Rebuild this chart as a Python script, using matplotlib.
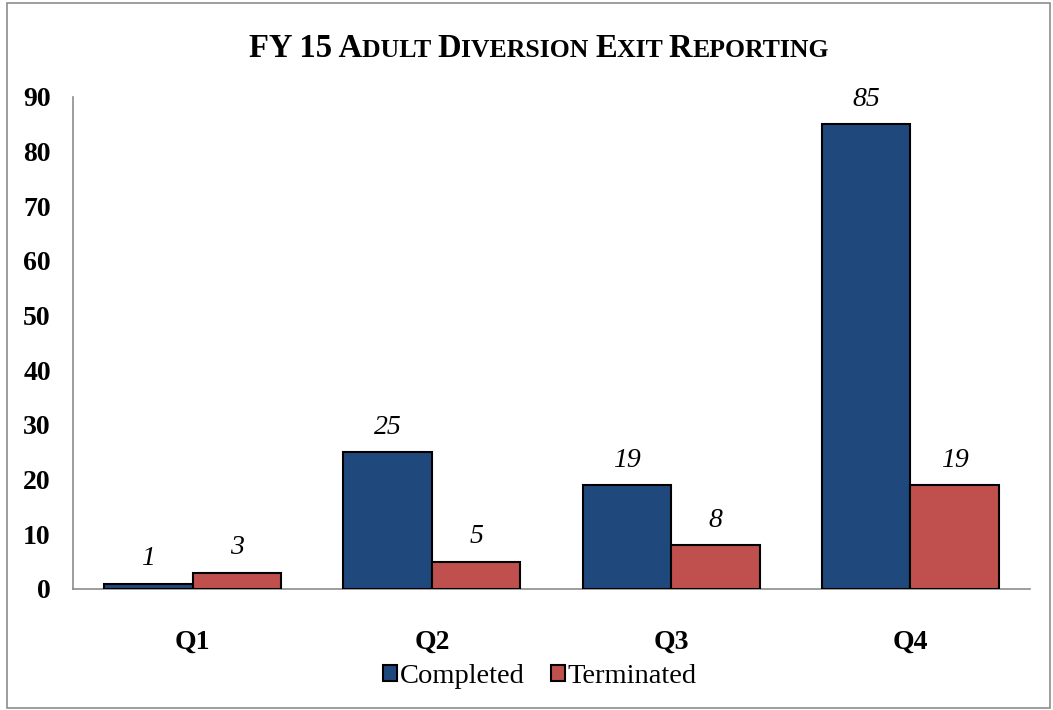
import matplotlib.pyplot as plt
import numpy as np
from matplotlib.patches import Rectangle

# Chart data
quarters = ["Q1", "Q2", "Q3", "Q4"]
completed = [1, 25, 19, 85]
terminated = [3, 5, 8, 19]
series_names = ["Completed", "Terminated"]
series_colors = ["#1F497D", "#C0504D"]

# Title pieces as (text, is_small_cap)
title_parts = [("FY 15 A", False), ("DULT ", True), ("D", False), ("IVERSION ", True),
               ("E", False), ("XIT ", True), ("R", False), ("EPORTING", True)]

plt.rcParams['font.family'] = ['Liberation Serif', 'DejaVu Serif']

fig = plt.figure(figsize=(10.53, 7.10), dpi=100)
ax = fig.add_axes([73 / 1053, 1 - 589 / 710, (1030 - 73) / 1053, (589 - 97) / 710])

# Outer chart border
fig.patches.append(Rectangle((7 / 1053, 2 / 710), 1043 / 1053, 705 / 710,
                             transform=fig.transFigure, fill=False,
                             edgecolor="#8C8C8C", linewidth=1.2))

x = np.arange(len(quarters))
width = 0.37
bars1 = ax.bar(x - width / 2, completed, width, color=series_colors[0],
               edgecolor="black", linewidth=1.5, label=series_names[0], zorder=3)
bars2 = ax.bar(x + width / 2, terminated, width, color=series_colors[1],
               edgecolor="black", linewidth=1.5, label=series_names[1], zorder=3)

# Data labels
for bars in (bars1, bars2):
    for b in bars:
        ax.annotate(f"{int(b.get_height())}", (b.get_x() + b.get_width() / 2, b.get_height()),
                    xytext=(0, 9), textcoords="offset points", ha="center", va="bottom",
                    fontsize=20, fontstyle="italic")

ax.set_xlim(-0.5, len(quarters) - 0.5)
ax.set_ylim(0, 90)
ax.set_yticks(range(0, 91, 10))
ax.set_xticks(x)
ax.set_xticklabels(quarters, fontsize=20, fontweight="bold")
for lbl in ax.get_yticklabels():
    lbl.set_fontsize(20)
    lbl.set_fontweight("bold")
ax.tick_params(axis="both", length=0)
ax.tick_params(axis="x", pad=29)
ax.tick_params(axis="y", pad=16)

for s in ("top", "right"):
    ax.spines[s].set_visible(False)
ax.spines["left"].set_color("#8C8C8C")
ax.spines["bottom"].set_color("#8C8C8C")
ax.spines["left"].set_linewidth(1.2)
ax.spines["bottom"].set_linewidth(1.2)

# Legend
ax.legend(loc="upper center", bbox_to_anchor=(0.488, -0.10), ncol=2, frameon=False,
          fontsize=20.5, handlelength=0.5, handleheight=0.5, handletextpad=0.1,
          columnspacing=0.9)

# Small-caps title built from pieces
fig.canvas.draw()
renderer = fig.canvas.get_renderer()
texts = []
for part, small in title_parts:
    t = fig.text(0, 0, part, fontsize=18.5 if small else 23.5, fontweight="bold",
                 ha="left", va="baseline")
    texts.append(t)
widths = [t.get_window_extent(renderer).width for t in texts]
total = sum(widths)
x0 = (539 - total / 2)
y0 = 710 - 57
for t, w in zip(texts, widths):
    t.set_position((x0 / 1053, y0 / 710))
    x0 += w

fig.savefig("out.png", dpi=100)
